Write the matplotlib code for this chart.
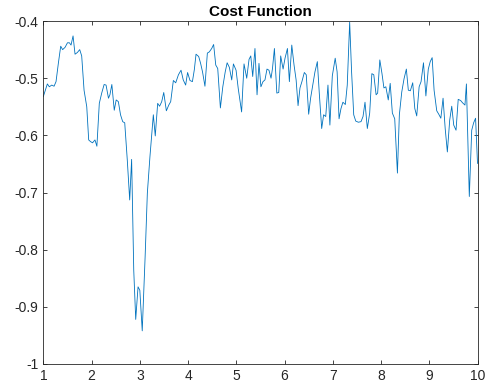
import matplotlib.pyplot as plt

plt.rcParams['font.family'] = ['Liberation Sans', 'DejaVu Sans']

x = [1.0, 1.083, 1.124, 1.174, 1.222, 1.263, 1.311, 1.36, 1.40, 1.45, 1.50, 1.54,
     1.574, 1.616, 1.657, 1.705, 1.754, 1.795, 1.844, 1.90, 1.94, 1.98, 2.02, 2.07,
     2.11, 2.16, 2.21, 2.26, 2.30, 2.35, 2.38, 2.42, 2.47, 2.51, 2.555, 2.60, 2.645,
     2.687, 2.74, 2.79, 2.83, 2.874, 2.915, 2.963, 3.0, 3.05, 3.11, 3.156, 3.21,
     3.28, 3.32, 3.37, 3.41, 3.454, 3.496, 3.55, 3.60, 3.64, 3.695, 3.744, 3.80,
     3.854, 3.90, 3.95, 3.99, 4.04, 4.09, 4.13, 4.165, 4.22, 4.26, 4.30, 4.35, 4.40,
     4.44, 4.49, 4.53, 4.574, 4.615, 4.67, 4.72, 4.77, 4.81, 4.856, 4.905, 4.94,
     4.995, 5.04, 5.11, 5.16, 5.216, 5.264, 5.30, 5.34, 5.387, 5.43, 5.47, 5.51,
     5.553, 5.594, 5.636, 5.677, 5.72, 5.75, 5.79, 5.84, 5.88, 5.92, 5.97, 6.01,
     6.06, 6.10, 6.15, 6.197, 6.24, 6.28, 6.32, 6.36, 6.41, 6.45, 6.50, 6.54, 6.585,
     6.63, 6.68, 6.72, 6.77, 6.81, 6.854, 6.90, 6.94, 6.99, 7.05, 7.09, 7.13, 7.17,
     7.21, 7.26, 7.30, 7.35, 7.39, 7.434, 7.476, 7.53, 7.585, 7.627, 7.668, 7.716,
     7.765, 7.81, 7.85, 7.898, 7.93, 7.975, 8.02, 8.06, 8.10, 8.15, 8.19, 8.235,
     8.284, 8.34, 8.38, 8.43, 8.477, 8.525, 8.566, 8.608, 8.657, 8.70, 8.74, 8.79,
     8.83, 8.88, 8.93, 8.98, 9.02, 9.06, 9.10, 9.155, 9.197, 9.24, 9.286, 9.33,
     9.375, 9.424, 9.466, 9.507, 9.555, 9.60, 9.65, 9.69, 9.74, 9.77, 9.83, 9.88,
     9.92, 9.96, 10.0]
cost = [-0.532, -0.510, -0.515, -0.512, -0.514, -0.506, -0.474, -0.444, -0.450,
        -0.446, -0.438, -0.438, -0.442, -0.426, -0.458, -0.455, -0.450, -0.461,
        -0.521, -0.550, -0.608, -0.611, -0.613, -0.608, -0.619, -0.544, -0.526,
        -0.511, -0.512, -0.535, -0.529, -0.511, -0.556, -0.538, -0.541, -0.564,
        -0.576, -0.578, -0.643, -0.713, -0.642, -0.836, -0.922, -0.865, -0.871,
        -0.942, -0.812, -0.701, -0.637, -0.564, -0.601, -0.544, -0.549, -0.541,
        -0.525, -0.557, -0.547, -0.541, -0.504, -0.508, -0.494, -0.486, -0.503,
        -0.512, -0.490, -0.504, -0.506, -0.485, -0.458, -0.462, -0.474, -0.489,
        -0.514, -0.456, -0.454, -0.448, -0.441, -0.477, -0.483, -0.552, -0.515,
        -0.489, -0.473, -0.481, -0.503, -0.475, -0.486, -0.518, -0.559, -0.475,
        -0.500, -0.467, -0.461, -0.497, -0.448, -0.529, -0.474, -0.515, -0.506,
        -0.503, -0.484, -0.486, -0.500, -0.483, -0.448, -0.526, -0.525, -0.461,
        -0.484, -0.465, -0.448, -0.506, -0.442, -0.477, -0.503, -0.548, -0.517,
        -0.506, -0.490, -0.494, -0.563, -0.535, -0.512, -0.489, -0.471, -0.526,
        -0.588, -0.564, -0.567, -0.512, -0.582, -0.496, -0.465, -0.489, -0.571,
        -0.553, -0.542, -0.546, -0.512, -0.402, -0.489, -0.564, -0.575, -0.577,
        -0.576, -0.567, -0.542, -0.588, -0.561, -0.492, -0.494, -0.529, -0.526,
        -0.468, -0.492, -0.517, -0.515, -0.538, -0.509, -0.561, -0.571, -0.666,
        -0.564, -0.524, -0.501, -0.484, -0.521, -0.522, -0.508, -0.553, -0.566,
        -0.515, -0.506, -0.473, -0.531, -0.484, -0.471, -0.464, -0.521, -0.557,
        -0.563, -0.570, -0.535, -0.588, -0.629, -0.573, -0.549, -0.582, -0.591,
        -0.537, -0.539, -0.543, -0.547, -0.510, -0.707, -0.591, -0.578, -0.570,
        -0.649]

fig = plt.figure(figsize=(4.87, 3.9), dpi=100)
ax = fig.add_axes([0.089, 0.0667, 0.8915, 0.8793])
ax.plot(x, cost, color='#0072BD', linewidth=0.6)

ax.set_xlim(1, 10)
ax.set_ylim(-1, -0.4)
ax.set_xticks(range(1, 11))
ax.set_yticks([-1, -0.9, -0.8, -0.7, -0.6, -0.5, -0.4])
ax.set_yticklabels(['-1', '-0.9', '-0.8', '-0.7', '-0.6', '-0.5', '-0.4'])
ax.tick_params(direction='in', top=True, right=True, length=3, width=0.6,
               colors='#262626', labelsize=10)
for s in ax.spines.values():
    s.set_color('#262626')
    s.set_linewidth(0.6)
ax.set_title('Cost Function', fontsize=11, fontweight='bold', pad=4)

fig.savefig('out.png', dpi=100)
